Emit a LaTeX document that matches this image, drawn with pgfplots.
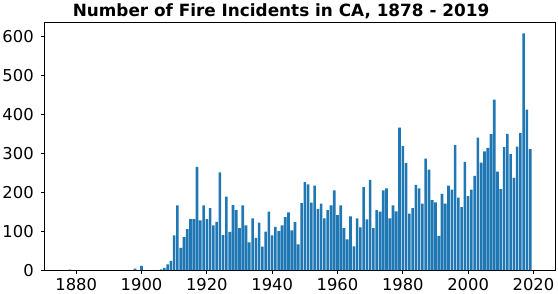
\documentclass[border=0pt]{standalone}
\usepackage{pgfplots}
\pgfplotsset{compat=1.18}
\usepackage{fontspec}
\setmainfont{DejaVu Sans}
\definecolor{mplblue}{HTML}{1F77B4}
\begin{document}
\begin{tikzpicture}
\begin{axis}[
  scale only axis,
  width=513bp, height=249bp,
  xmin=1870.4, xmax=2026.6,
  ymin=0, ymax=636,
  xtick={1880,1900,...,2020},
  ytick={0,100,...,600},
  tick align=outside,
  xtick pos=bottom, ytick pos=left,
  major tick length=3.5bp,
  tick style={black, line width=0.8bp},
  axis line style={line width=0.8bp},
  /pgf/number format/assume math mode=true,
  /pgf/number format/1000 sep={},
  ticklabel style={font=\fontsize{16.5}{19}\selectfont, inner sep=2.5bp},
  xticklabel style={yshift=-2bp},
  yticklabel style={xshift=-5bp},
  title={\bfseries Number of Fire Incidents in CA, 1878 - 2019},
  title style={font=\fontsize{17}{20}\selectfont, yshift=-5.5bp, xshift=-19bp},
  ybar, bar width=0.8,
]
\addplot[fill=mplblue, draw=none] coordinates {
(1878,1) (1898,4) (1900,11) (1906,2) (1907,6) (1908,15) (1909,24)
(1910,89) (1911,166) (1912,57) (1913,85) (1914,105) (1915,131) (1916,131)
(1917,265) (1918,128) (1919,166) (1920,131) (1921,159) (1922,115) (1923,124)
(1924,251) (1925,90) (1926,189) (1927,98) (1928,167) (1929,154) (1930,108)
(1931,166) (1932,115) (1933,71) (1934,133) (1935,83) (1936,122) (1937,60)
(1938,99) (1939,150) (1940,89) (1941,111) (1942,100) (1943,115) (1944,136)
(1945,148) (1946,102) (1947,123) (1948,66) (1949,172) (1950,226) (1951,220)
(1952,173) (1953,217) (1954,157) (1955,171) (1956,133) (1957,154) (1958,166)
(1959,205) (1960,141) (1961,166) (1962,108) (1963,79) (1964,138) (1965,61)
(1966,133) (1967,110) (1968,213) (1969,130) (1970,232) (1971,108) (1972,154)
(1973,150) (1974,205) (1975,210) (1976,133) (1977,166) (1978,151) (1979,366)
(1980,319) (1981,275) (1982,145) (1983,159) (1984,219) (1985,210) (1986,171)
(1987,286) (1988,258) (1989,180) (1990,174) (1991,88) (1992,196) (1993,171)
(1994,217) (1995,207) (1996,321) (1997,186) (1998,162) (1999,278) (2000,190)
(2001,207) (2002,242) (2003,340) (2004,276) (2005,305) (2006,314) (2007,349)
(2008,438) (2009,253) (2010,208) (2011,316) (2012,350) (2013,298) (2014,237)
(2015,317) (2016,352) (2017,608) (2018,412) (2019,311)
};
\end{axis}
\path (current axis.south east) ++(3bp,0);
\end{tikzpicture}
\end{document}
